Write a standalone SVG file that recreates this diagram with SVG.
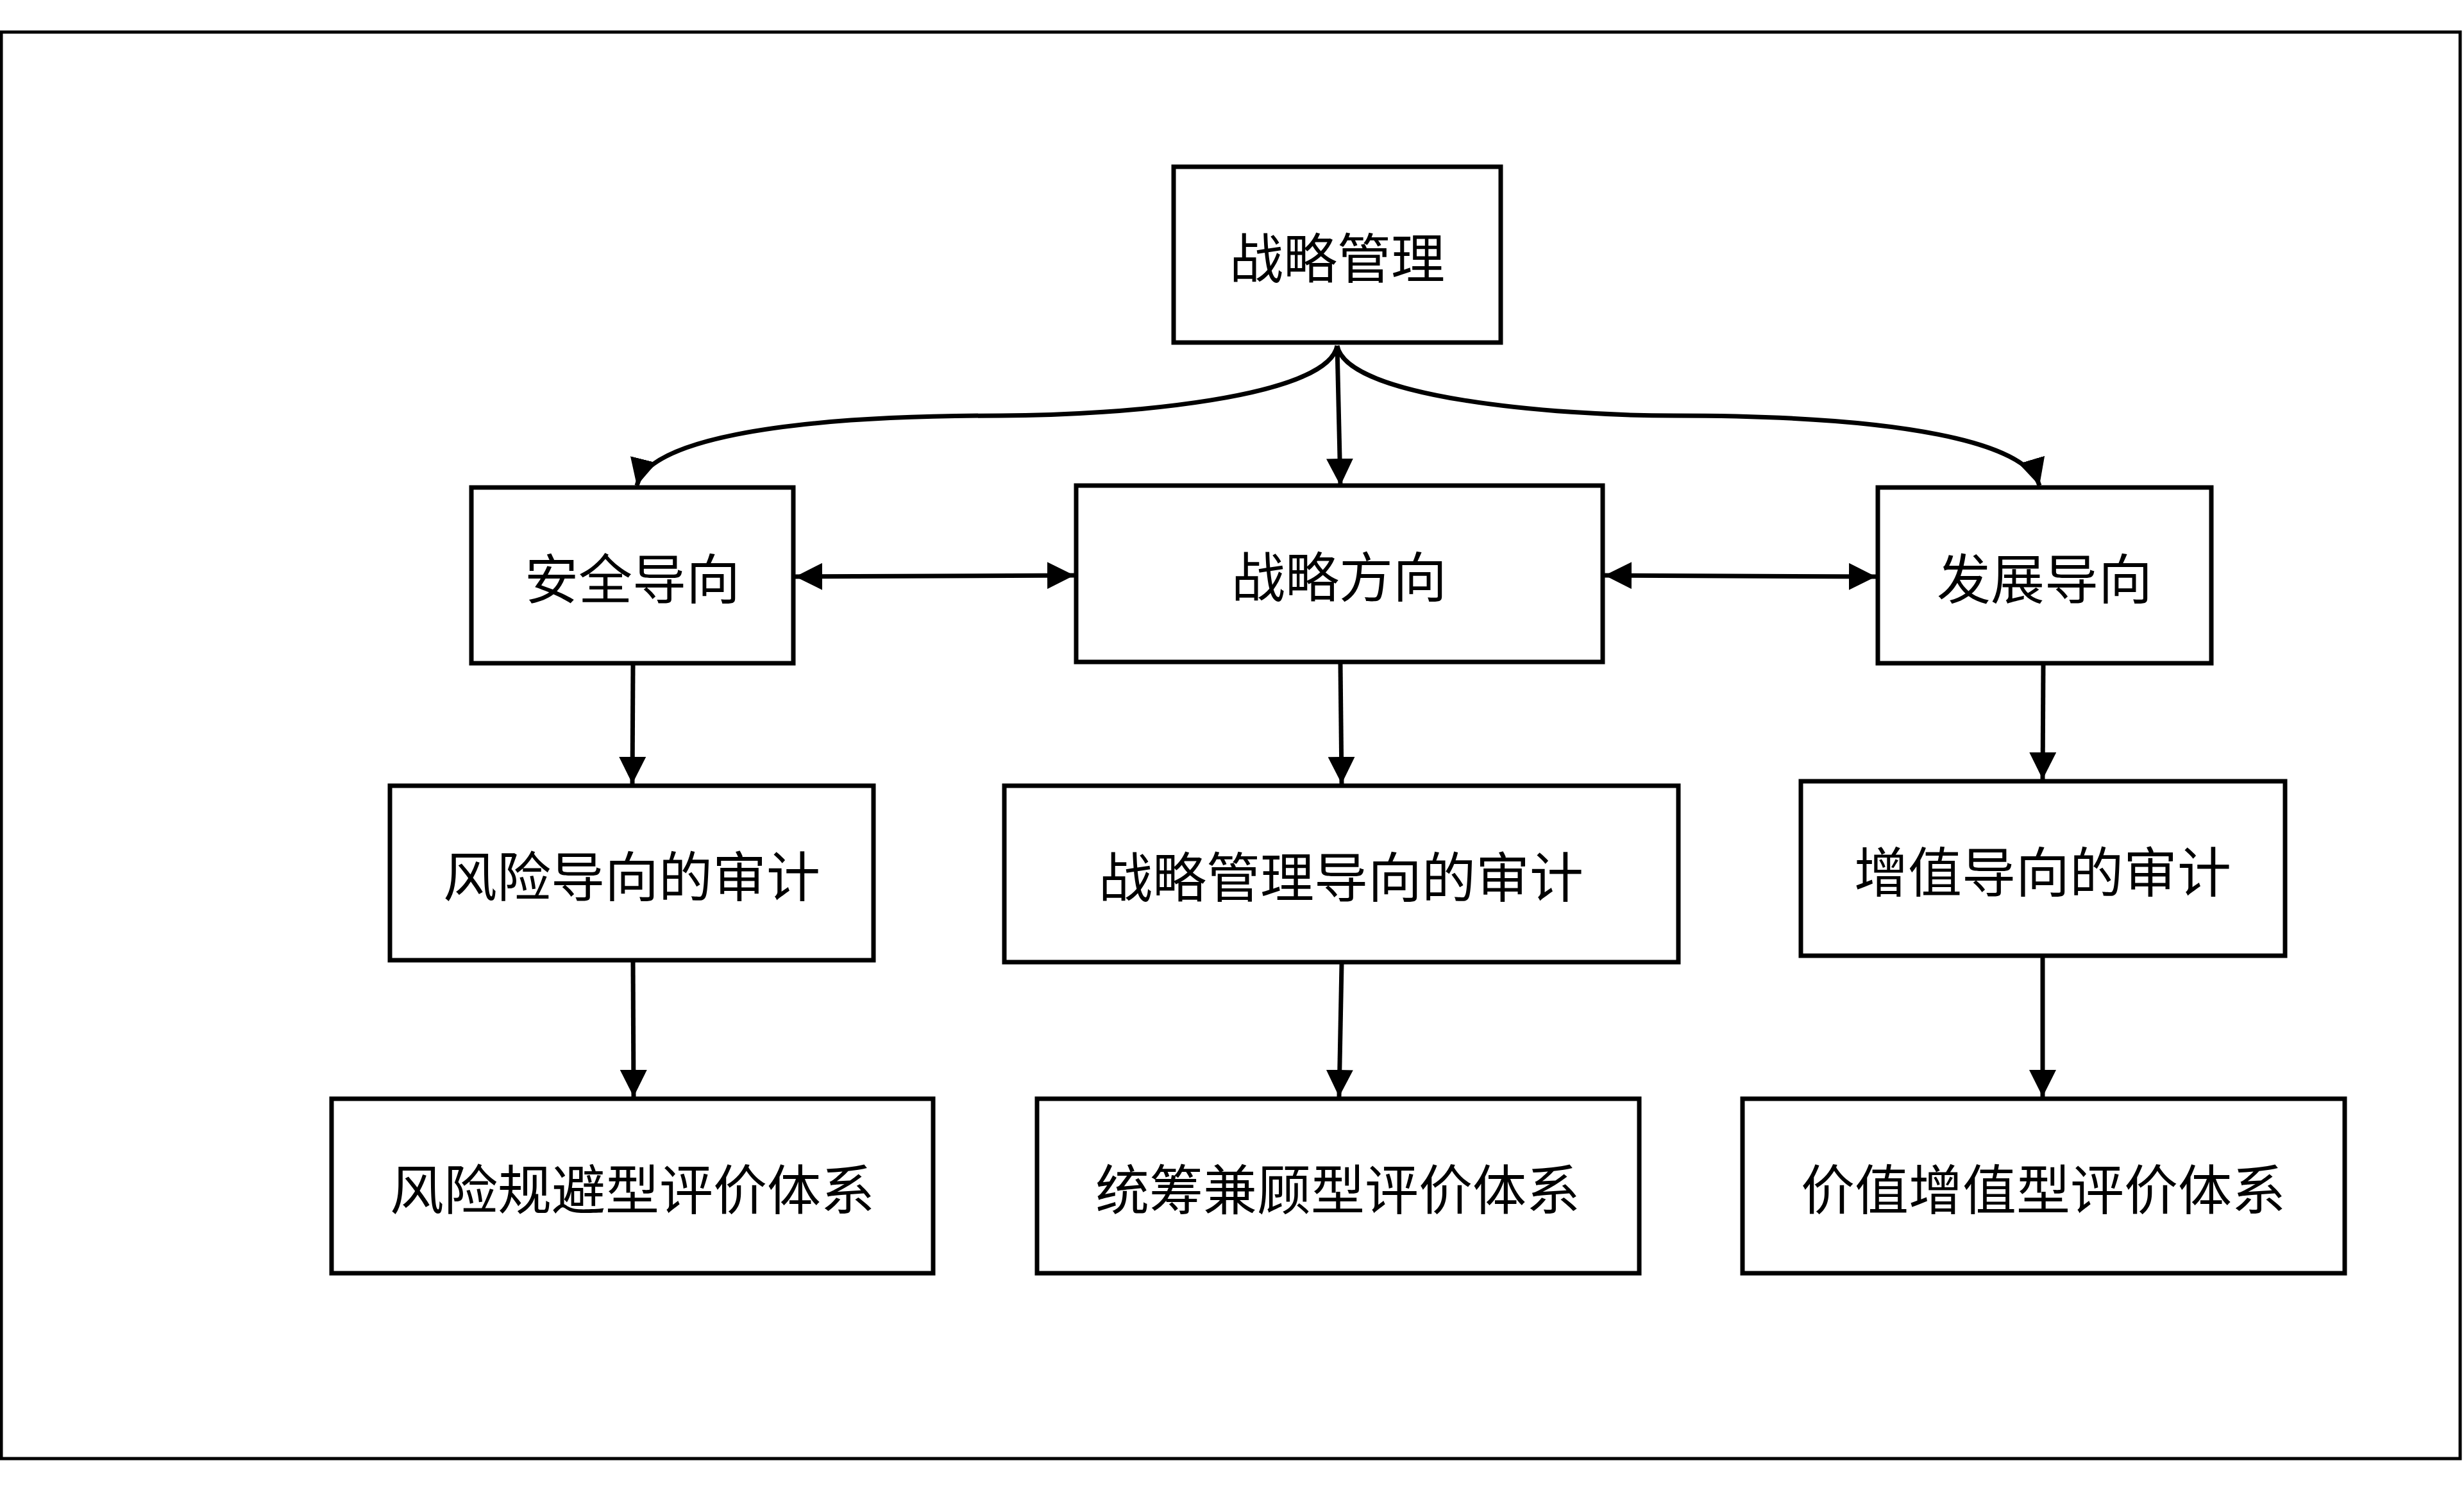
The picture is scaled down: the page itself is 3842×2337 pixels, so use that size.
<svg xmlns="http://www.w3.org/2000/svg" width="3842" height="2337" viewBox="0 0 3842 2337">
<defs>
<style>
.box{fill:#fff;stroke:#000;stroke-width:7}
.t{font-family:"Noto Sans CJK SC","Liberation Sans",sans-serif;font-size:84px;text-anchor:middle;dominant-baseline:central;fill:#000}
.c{fill:none;stroke:#000;stroke-width:7}
</style>
<marker id="ah" viewBox="0 0 10 10" refX="10" refY="5" markerWidth="42" markerHeight="42" markerUnits="userSpaceOnUse" orient="auto-start-reverse"><path d="M0,0 L10,5 L0,10 z" fill="#000"/></marker>
</defs>
<rect x="2" y="50" width="3834" height="2224" fill="#fff" stroke="#000" stroke-width="5"/>
<g id="connectors">
<path class="c" marker-end="url(#ah)" d="M2085,539 C2070,620 1750,648 1560,648 C1200,648 1010,690 993,757"/>
<path class="c" marker-end="url(#ah)" d="M2085,539 C2100,620 2420,648 2610,648 C2970,648 3160,690 3180,757"/>
<path class="c" marker-end="url(#ah)" d="M2085,539 L2090,757"/>
<path class="c" marker-start="url(#ah)" marker-end="url(#ah)" d="M1240,899 L1675,897"/>
<path class="c" marker-start="url(#ah)" marker-end="url(#ah)" d="M2502,897 L2925,899"/>
<path class="c" marker-end="url(#ah)" d="M987,1037 L986,1222"/>
<path class="c" marker-end="url(#ah)" d="M2090,1035 L2092,1222"/>
<path class="c" marker-end="url(#ah)" d="M3186,1037 L3185,1215"/>
<path class="c" marker-end="url(#ah)" d="M987,1500 L988,1710"/>
<path class="c" marker-end="url(#ah)" d="M2092,1503 L2088,1710"/>
<path class="c" marker-end="url(#ah)" d="M3185,1493 L3185,1710"/>
</g>
<g id="n1"><rect class="box" x="1830" y="260" width="510" height="274"/><text class="t" x="2085" y="397">战略管理</text></g>
<g id="n2"><rect class="box" x="735" y="760" width="502" height="274"/><text class="t" x="986" y="897">安全导向</text></g>
<g id="n3"><rect class="box" x="1678" y="757" width="821" height="275"/><text class="t" x="2088" y="894">战略方向</text></g>
<g id="n4"><rect class="box" x="2928" y="760" width="520" height="274"/><text class="t" x="3188" y="897">发展导向</text></g>
<g id="n5"><rect class="box" x="608" y="1225" width="754" height="272"/><text class="t" x="985" y="1361">风险导向的审计</text></g>
<g id="n6"><rect class="box" x="1566" y="1225" width="1051" height="275"/><text class="t" x="2091" y="1362">战略管理导向的审计</text></g>
<g id="n7"><rect class="box" x="2808" y="1218" width="755" height="272"/><text class="t" x="3185" y="1354">增值导向的审计</text></g>
<g id="n8"><rect class="box" x="517" y="1713" width="938" height="272"/><text class="t" x="986" y="1849">风险规避型评价体系</text></g>
<g id="n9"><rect class="box" x="1617" y="1713" width="939" height="272"/><text class="t" x="2086" y="1849">统筹兼顾型评价体系</text></g>
<g id="n10"><rect class="box" x="2717" y="1713" width="939" height="272"/><text class="t" x="3186" y="1849">价值增值型评价体系</text></g>
</svg>
